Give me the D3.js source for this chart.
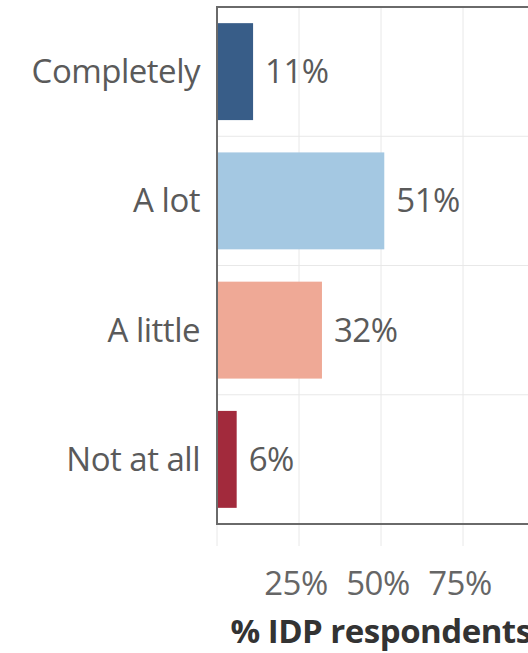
<!DOCTYPE html>
<html>
<head>
<meta charset="utf-8">
<script src="https://cdn.jsdelivr.net/npm/d3@7"></script>
<style>
  body { margin: 0; background: #fff; }
  text { font-family: "Open Sans", sans-serif; }
</style>
</head>
<body>
<div id="chart"></div>
<script>
// data
const categories = ["Completely", "A lot", "A little", "Not at all"];
const values = [0.11, 0.51, 0.32, 0.06];
const colors = ["#385d88", "#a4c8e2", "#efa996", "#a22a3c"];
const xTicks = [0.25, 0.5, 0.75];
const xTitle = "% IDP respondents";

const width = 528, height = 653;
const marginTop = 7, marginLeft = 217, plotBottom = 524;
const fontSize = 33;

const svg = d3.select("#chart").append("svg")
    .attr("width", width)
    .attr("height", height);

const x = d3.scaleLinear().domain([0, 1]).range([marginLeft, marginLeft + 328]);
const y = d3.scaleBand().domain(categories).range([marginTop, plotBottom])
    .paddingInner(0.25).paddingOuter(0.125);

// gridlines
const grid = svg.append("g").attr("stroke", "#e8e8e8").attr("stroke-width", 1);
grid.selectAll("line.v").data(xTicks).join("line")
    .attr("x1", d => x(d)).attr("x2", d => x(d))
    .attr("y1", marginTop).attr("y2", plotBottom + 22);
grid.append("line")
    .attr("x1", x(0)).attr("x2", x(0))
    .attr("y1", plotBottom).attr("y2", plotBottom + 22);
grid.selectAll("line.h").data(categories.slice(1)).join("line")
    .attr("x1", x(0)).attr("x2", width)
    .attr("y1", d => y(d) - y.step() * y.paddingInner() / 2)
    .attr("y2", d => y(d) - y.step() * y.paddingInner() / 2);

// bars
svg.append("g").selectAll("rect").data(categories).join("rect")
    .attr("x", x(0))
    .attr("y", d => y(d))
    .attr("width", (d, i) => x(values[i]) - x(0))
    .attr("height", y.bandwidth())
    .attr("fill", (d, i) => colors[i]);

// frame
svg.append("path")
    .attr("d", `M${width + 5},${marginTop}H${x(0)}V${plotBottom}H${width + 5}`)
    .attr("fill", "none")
    .attr("stroke", "#6a6a6a")
    .attr("stroke-width", 2);

// category labels
svg.append("g").selectAll("text").data(categories).join("text")
    .attr("x", 200)
    .attr("y", d => y(d) + y.bandwidth() / 2)
    .attr("text-anchor", "end")
    .attr("dy", "0.35em")
    .attr("font-size", fontSize)
    .attr("letter-spacing", -0.5)
    .attr("fill", "#5a5a5a")
    .text(d => d);

// value labels
svg.append("g").selectAll("text").data(categories).join("text")
    .attr("x", (d, i) => x(values[i]) + 12)
    .attr("y", d => y(d) + y.bandwidth() / 2)
    .attr("dy", "0.35em")
    .attr("font-size", fontSize)
    .attr("letter-spacing", -0.5)
    .attr("fill", "#5a5a5a")
    .text((d, i) => d3.format(".0%")(values[i]));

// x tick labels
svg.append("g").selectAll("text").data(xTicks).join("text")
    .attr("x", d => x(d) - 3)
    .attr("y", 583)
    .attr("text-anchor", "middle")
    .attr("dy", "0.35em")
    .attr("font-size", fontSize)
    .attr("letter-spacing", -0.5)
    .attr("fill", "#666")
    .text(d => d3.format(".0%")(d));

// axis title
svg.append("text")
    .attr("x", x(0.5))
    .attr("y", 643)
    .attr("text-anchor", "middle")
    .attr("font-size", fontSize)
    .attr("font-weight", "bold")
    .attr("letter-spacing", -0.5)
    .attr("fill", "#333")
    .text(xTitle);
</script>
</body>
</html>
